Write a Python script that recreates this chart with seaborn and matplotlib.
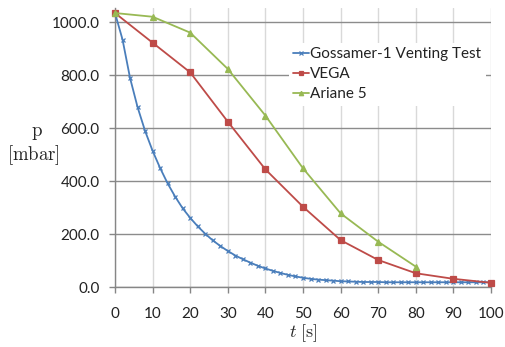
import matplotlib
matplotlib.use("Agg")
import matplotlib.pyplot as plt
import seaborn as sns
import pandas as pd
import numpy as np

# ---- data ----
t_goss = list(range(0, 101, 2))
p_goss = [1035, 935, 790, 680, 590, 515, 450, 392, 342, 298,
          262, 230, 202, 177, 156, 137, 120, 106, 93, 81,
          71, 62, 54, 47, 41, 36, 32, 29, 27, 25,
          23, 22, 21, 20, 20, 20, 19, 19, 19, 19,
          19, 19, 19, 19, 19, 19, 19, 19, 19, 19, 19]
t_vega = [0, 10, 20, 30, 40, 50, 60, 70, 80, 90, 100]
p_vega = [1035, 923, 811, 625, 445, 304, 178, 103, 53, 32, 17]
t_ariane = [0, 10, 20, 30, 40, 50, 60, 70, 80]
p_ariane = [1035, 1021, 961, 824, 648, 449, 279, 172, 78]

names = ["Gossamer-1 Venting Test", "VEGA", "Ariane 5"]
y_ticks = [0, 200, 400, 600, 800, 1000]
x_ticks = [0, 10, 20, 30, 40, 50, 60, 70, 80, 90, 100]

df = pd.concat([
    pd.DataFrame({"t": t_goss, "p": p_goss, "series": names[0]}),
    pd.DataFrame({"t": t_vega, "p": p_vega, "series": names[1]}),
    pd.DataFrame({"t": t_ariane, "p": p_ariane, "series": names[2]}),
])

sns.set_theme(style="white")
plt.rcParams["font.family"] = ["Lato", "DejaVu Sans"]
plt.rcParams["mathtext.fontset"] = "cm"

colors = ["#4A7EBB", "#BE4B48", "#98B954"]
markers = ["x", "s", "^"]
msizes = [3.5, 4, 4.5]

fig = plt.figure(figsize=(5.05, 3.47), dpi=100)
ax = fig.add_axes([115 / 505, (347 - 287.3) / 347, (491 - 115) / 505, (287.3 - 8) / 347])

for name, c, m, ms in zip(names, colors, markers, msizes):
    sub = df[df["series"] == name]
    sns.lineplot(data=sub, x="t", y="p", ax=ax, color=c, marker=m,
                 markersize=ms, markeredgecolor=c, markeredgewidth=0.9,
                 linewidth=1.3, label=name, clip_on=False, zorder=3)

ax.set_xlim(0, 100)
ax.set_ylim(0, 1054)
ax.set_xticks(x_ticks)
ax.set_yticks(y_ticks)
ax.set_xticklabels([str(v) for v in x_ticks])
ax.set_yticklabels([f"{v:.1f}" for v in y_ticks])
ax.tick_params(axis="both", labelsize=11, colors="#868686", labelcolor="#222222",
               length=4, width=1, direction="out")
ax.tick_params(axis="x", bottom=True, pad=10)
ax.tick_params(axis="y", left=True, pad=7)

ax.yaxis.grid(True, color="#8C8C8C", linewidth=1.0)
ax.xaxis.grid(True, color="#D9D9D9", linewidth=1.0)
ax.set_axisbelow(True)
for s in ["top", "right"]:
    ax.spines[s].set_visible(False)
for s in ["left", "bottom"]:
    ax.spines[s].set_color("#868686")
    ax.spines[s].set_linewidth(1.0)

ax.set_xlabel(r"$t\ [\mathrm{s}]$", fontsize=13, labelpad=1)
ax.set_ylabel("")
fig.text(37 / 505, 1 - 134 / 347, r"$\mathrm{p}$", fontsize=13.5, ha="center", va="center")
fig.text(33 / 505, 1 - 155 / 347, r"$[\mathrm{mbar}]$", fontsize=13.5, ha="center", va="center")

leg = ax.legend(loc="upper left", bbox_to_anchor=(281 / 505, 1 - 35 / 347),
                bbox_transform=fig.transFigure, frameon=True, fontsize=11,
                handlelength=1.0, handletextpad=0.1, labelspacing=0.4,
                borderpad=0.3, markerscale=0.7)
leg.get_frame().set_facecolor("white")
leg.get_frame().set_edgecolor("none")
leg.get_frame().set_alpha(1)
for txt in leg.get_texts():
    txt.set_color("#222222")

fig.savefig("out.png", dpi=100)
